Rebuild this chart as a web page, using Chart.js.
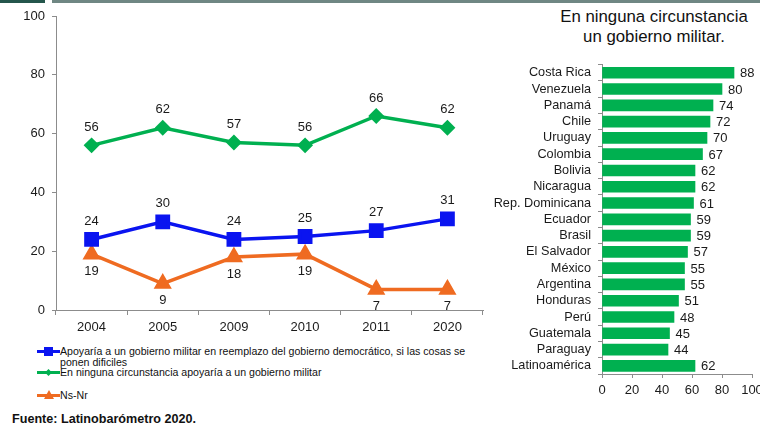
<!DOCTYPE html>
<html>
<head>
<meta charset="utf-8">
<script src="https://cdn.jsdelivr.net/npm/chart.js@4.4.1/dist/chart.umd.min.js"></script>
<style>
  body { margin:0; width:760px; height:429px; overflow:hidden; background:#fff; position:relative;
         font-family:"Liberation Sans", Arial, sans-serif; color:#111; }
  .strip1 { position:absolute; left:0; top:0; width:45px; height:3px; background:#24564c; }
  .strip2 { position:absolute; left:52px; top:0; width:708px; height:3px; background:#6f8783; }
  #lineWrap { position:absolute; left:0; top:0; width:500px; height:340px; }
  #barWrap { position:absolute; left:480px; top:50px; width:300px; height:360px; }
  .title { position:absolute; left:544px; top:7px; width:220px; text-align:center; font-size:16.8px; line-height:20px; color:#111; }
  .legend { position:absolute; left:37px; top:346px; width:440px; font-size:10.6px; line-height:11px; }
  .item { position:absolute; left:0; display:flex; align-items:flex-start; }
  .icon { position:relative; width:23px; height:11px; flex:none; }
  .icon .ln { position:absolute; left:0; top:4px; width:23px; height:3px; }
  .icon .mk { position:absolute; }
  .txt { width:415px; }
  .src { position:absolute; left:12px; top:412px; font-size:12.6px; font-weight:bold; color:#111; }
</style>
</head>
<body>
<div class="strip1"></div><div class="strip2"></div>
<div id="lineWrap"><canvas id="lineChart"></canvas></div>
<div class="title">En ninguna circunstancia<br>un gobierno militar.</div>
<div id="barWrap"><canvas id="barChart"></canvas></div>
<div class="legend" id="legend"></div>
<div class="src">Fuente: Latinobarómetro 2020.</div>

<script>
// =========================
// DATA
// =========================
const years = ['2004','2005','2009','2010','2011','2020'];
const apoyaria = [24,30,24,25,27,31];
const ninguna  = [56,62,57,56,66,62];
const nsNr     = [19,9,18,19,7,7];

const seriesNames = [
  'Apoyaría a un gobierno militar en reemplazo del gobierno democrático, si las cosas se ponen dificiles',
  'En ninguna circunstancia apoyaría a un gobierno militar',
  'Ns-Nr'
];

const countries = ['Costa Rica','Venezuela','Panamá','Chile','Uruguay','Colombia','Bolivia','Nicaragua',
  'Rep. Dominicana','Ecuador','Brasil','El Salvador','México','Argentina','Honduras','Perú',
  'Guatemala','Paraguay','Latinoamérica'];
const ningunaPais = [88,80,74,72,70,67,62,62,61,59,59,57,55,55,51,48,45,44,62];

const yTicks = [0,20,40,60,80,100];

const COL = {
  blue:   '#0a14f0',
  green:  '#00b050',
  orange: '#ef6b21',
  axis:   '#8c8c8c',
  text:   '#1a1a1a'
};
const FONT = '"Liberation Sans", Arial, sans-serif';

Chart.defaults.font.family = FONT;
Chart.defaults.font.size = 13;
Chart.defaults.color = COL.text;

// value labels drawn next to each point / bar
const valueLabels = {
  id: 'valueLabels',
  afterDatasetsDraw(chart) {
    const ctx = chart.ctx;
    ctx.save();
    ctx.font = '13px ' + FONT;
    ctx.fillStyle = COL.text;
    ctx.textBaseline = 'middle';
    chart.data.datasets.forEach((ds, i) => {
      chart.getDatasetMeta(i).data.forEach((el, j) => {
        if (chart.config.type === 'bar') {
          ctx.textAlign = 'left';
          ctx.fillText(ds.data[j], el.x + 6, el.y + 1);
        } else {
          ctx.textAlign = 'center';
          ctx.fillText(ds.data[j], el.x, el.y + ds.labelOffset);
        }
      });
    });
    ctx.restore();
  }
};

// =========================
// TREND LINES
// =========================
new Chart(document.getElementById('lineChart'), {
  type: 'line',
  data: {
    labels: years,
    datasets: [
      {
        label: seriesNames[0], data: apoyaria, labelOffset: -18,
        borderColor: COL.blue, backgroundColor: COL.blue, borderWidth: 3.5,
        pointStyle: 'rect', pointRadius: 8, tension: 0
      },
      {
        label: seriesNames[1], data: ninguna, labelOffset: -18,
        borderColor: COL.green, backgroundColor: COL.green, borderWidth: 3.5,
        pointStyle: 'rectRot', pointRadius: 5.5, tension: 0
      },
      {
        label: seriesNames[2], data: nsNr, labelOffset: 17,
        borderColor: COL.orange, backgroundColor: COL.orange, borderWidth: 3.5,
        pointStyle: 'triangle', pointRadius: 7, tension: 0
      }
    ]
  },
  options: {
    responsive: true,
    maintainAspectRatio: false,
    animation: false,
    layout: { padding: { top: 16, right: 17, left: 0, bottom: 0 } },
    plugins: { legend: { display: false }, tooltip: { enabled: false } },
    scales: {
      x: {
        offset: true,
        grid: { offset: true, drawOnChartArea: false, drawTicks: true, tickLength: 5, color: COL.axis },
        border: { color: COL.axis },
        ticks: { padding: 5 },
        afterFit(s) { s.height = 30; }
      },
      y: {
        min: 0, max: 100,
        afterBuildTicks(s) { s.ticks = yTicks.map(v => ({ value: v })); },
        grid: { drawOnChartArea: false, drawTicks: true, tickLength: 4, color: COL.axis },
        border: { color: COL.axis },
        ticks: { padding: 7 },
        afterFit(s) { s.width = 56; }
      }
    }
  },
  plugins: [valueLabels]
});

// =========================
// COUNTRY BARS
// =========================
new Chart(document.getElementById('barChart'), {
  type: 'bar',
  data: {
    labels: countries,
    datasets: [{
      label: seriesNames[1],
      data: ningunaPais,
      backgroundColor: COL.green,
      barThickness: 11
    }]
  },
  options: {
    indexAxis: 'y',
    responsive: true,
    maintainAspectRatio: false,
    animation: false,
    layout: { padding: { top: 12, right: 28, left: 0, bottom: 0 } },
    plugins: { legend: { display: false }, tooltip: { enabled: false } },
    scales: {
      x: {
        min: 0, max: 100,
        afterBuildTicks(s) { s.ticks = yTicks.map(v => ({ value: v })); },
        grid: { drawOnChartArea: false, drawTicks: true, tickLength: 4, color: COL.axis },
        border: { color: COL.axis },
        ticks: { padding: 5 },
        afterFit(s) { s.height = 36; }
      },
      y: {
        grid: { offset: true, drawOnChartArea: false, drawTicks: true, tickLength: 4, color: COL.axis },
        border: { color: COL.axis },
        ticks: { padding: 7, autoSkip: false, font: { size: 12.7 } },
        afterFit(s) { s.width = 122; }
      }
    }
  },
  plugins: [valueLabels]
});

// =========================
// LEGEND (html, built from the series)
// =========================
const legendRows = [0, 21, 44];
const markers = [
  '<span class="mk" style="left:7px;top:1px;width:9px;height:9px;background:' + COL.blue + '"></span>',
  '<span class="mk" style="left:9px;top:3px;width:5px;height:5px;background:' + COL.green + ';transform:rotate(45deg)"></span>',
  '<span class="mk" style="left:7px;top:0px;width:0;height:0;border-left:5px solid transparent;border-right:5px solid transparent;border-bottom:9px solid ' + COL.orange + '"></span>'
];
const lineCols = [COL.blue, COL.green, COL.orange];
document.getElementById('legend').innerHTML = seriesNames.map((name, i) =>
  '<div class="item" style="top:' + legendRows[i] + 'px">' +
    '<span class="icon"><span class="ln" style="background:' + lineCols[i] + '"></span>' + markers[i] + '</span>' +
    '<span class="txt">' + name + '</span></div>'
).join('');
</script>
</body>
</html>
